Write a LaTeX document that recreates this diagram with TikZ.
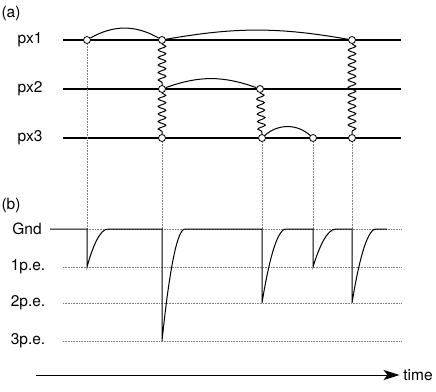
\documentclass[tikz,border=0pt]{standalone}
\usepackage{fontspec}
\setmainfont{TeX Gyre Heros}
\usetikzlibrary{decorations.pathmorphing,arrows.meta}
\tikzset{
  hit/.style={circle,draw,fill=white,inner sep=0pt,minimum size=7pt,line width=0.8pt},
  spring/.style={decorate,decoration={snake,segment length=7.5pt,amplitude=3.8pt}},
  guide/.style={densely dotted,gray,line width=0.6pt},
  pixline/.style={line width=1.2pt},
}
\begin{document}
\begin{tikzpicture}[x=1pt,y=-1pt,line width=1pt,font=\fontsize{15.5}{18}\selectfont]
  \useasboundingbox (0,0) rectangle (436,391);
  % (a): three pixels, hits and crosstalk
  \node (la) at (11,13) {(a)};
  \foreach \y/\n in {40/1,89/2,138/3} {
    \node (px\n) at (30,\y) {px\n};
    \coordinate (pl\n) at (63,\y);
    \coordinate (pr\n) at (401,\y);
    \draw[pixline] (pl\n) -- (pr\n);
  }
  \node[hit] (a1) at (87,40) {};
  \node[hit] (a2) at (162,40) {};
  \node[hit] (a3) at (352,40) {};
  \node[hit] (b1) at (162,89) {};
  \node[hit] (b2) at (260,89) {};
  \node[hit] (c1) at (162,138) {};
  \node[hit] (c2) at (262,138) {};
  \node[hit] (c3) at (313,138) {};
  \node[hit] (c4) at (352,138) {};
  % springs between pixels
  \draw[spring] (a2) -- (b1);
  \draw[spring] (b1) -- (c1);
  \draw[spring] (b2) -- (c2);
  \draw[spring] (a3) -- (c4);
  % arcs along a pixel
  \draw (a1) to[bend left=30] (a2);
  \draw (a2) to[bend left=10] (a3);
  \draw (b1) to[bend left=20] (b2);
  \draw (c2) to[bend left=42] (c3);
  % (b): signal
  \node (lb) at (11,205) {(b)};
  \node (gnd) at (27,229) {Gnd};
  \node (pe1) at (28,267) {1p.e.};
  \node (pe2) at (28,303) {2p.e.};
  \node (pe3) at (28,341) {3p.e.};
  \draw[guide] (87,229) -- (401,229);
  \draw[guide] (63,267) -- (401,267);
  \draw[guide] (63,303) -- (401,303);
  \draw[guide] (63,341) -- (401,341);
  \draw[guide] (a1) -- (a1 |- gnd);
  \foreach \h in {c1,c2,c3,c4}
    \draw[guide] (\h) -- (\h |- gnd);
  \draw (50,229) -- (87,229)
    -- (87,267) .. controls (92.3,248) and (99.6,229) .. (108,229)
    -- (162,229) -- (162,341) .. controls (167.8,285) and (175.8,229) .. (185,229)
    -- (262,229) -- (262,303) .. controls (268,266) and (276.4,229) .. (286,229)
    -- (313,229) -- (313,267) .. controls (318.8,248) and (326.8,229) .. (336,229)
    -- (352,229) -- (352,303) .. controls (358,266) and (366.4,229) .. (376,229)
    -- (387,229);
  % time axis
  \coordinate (t0) at (36,375);
  \node (time) at (418,375) {time};
  \draw[-{Stealth[length=16pt,width=10pt,inset=4pt]}] (t0) -- (time.west);
\end{tikzpicture}
\end{document}
